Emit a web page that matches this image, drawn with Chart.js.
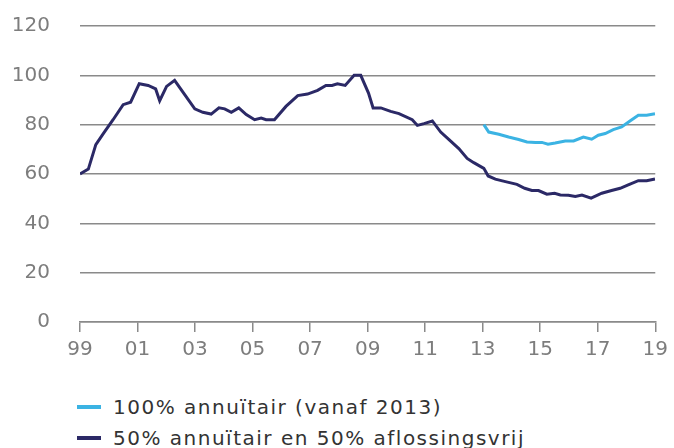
<!DOCTYPE html>
<html>
<head>
<meta charset="utf-8">
<script src="https://cdn.jsdelivr.net/npm/chart.js@4"></script>
<style>
  html, body { margin: 0; padding: 0; background: #fff; }
  #wrap { position: relative; width: 674px; height: 448px; }
  #chart { position: absolute; left: 0; top: 0; }
  #legend { position: absolute; left: 77px; top: 391px; font-family: "DejaVu Sans", sans-serif; font-size: 20px; letter-spacing: 1.5px; color: #333; }
  .item { display: flex; align-items: center; height: 31px; }
  .swatch { width: 24px; height: 4px; margin-right: 12px; }
</style>
</head>
<body>
<div id="wrap">
  <canvas id="chart" width="674" height="375"></canvas>
  <div id="legend"></div>
</div>
<script>
// series (decimal year, index value)
const labelLight = '100% annuïtair (vanaf 2013)';
const labelDark  = '50% annuïtair en 50% aflossingsvrij';

const yearsDark = [1999.00, 1999.29, 1999.55, 1999.81, 2000.15, 2000.50, 2000.76, 2001.06, 2001.37, 2001.63,
  2001.77, 2002.01, 2002.29, 2002.64, 2002.99, 2003.27, 2003.56, 2003.83, 2004.03, 2004.26,
  2004.52, 2004.78, 2005.07, 2005.30, 2005.47, 2005.76, 2006.16, 2006.57, 2006.91, 2007.26,
  2007.55, 2007.76, 2007.95, 2008.22, 2008.53, 2008.76, 2009.03, 2009.19, 2009.46, 2009.80,
  2010.09, 2010.55, 2010.73, 2010.96, 2011.25, 2011.54, 2011.82, 2012.17, 2012.46, 2012.69,
  2013.04, 2013.19, 2013.44, 2013.79, 2014.19, 2014.46, 2014.71, 2014.94, 2015.23, 2015.50,
  2015.70, 2015.98, 2016.22, 2016.45, 2016.77, 2017.14, 2017.48, 2017.78, 2018.06, 2018.41,
  2018.70, 2018.99];
const valuesDark = [60.0, 62.0, 71.9, 76.4, 82.0, 88.1, 89.1, 96.6, 95.9, 94.5,
  89.7, 95.5, 98.0, 92.2, 86.4, 85.0, 84.3, 86.8, 86.4, 85.0,
  86.8, 84.1, 82.0, 82.7, 82.0, 82.0, 87.4, 91.8, 92.4, 93.9,
  95.9, 95.9, 96.6, 95.9, 100.0, 100.0, 92.8, 86.8, 86.8, 85.4,
  84.5, 82.0, 79.7, 80.4, 81.5, 77.0, 74.0, 70.3, 66.3, 64.6,
  62.3, 59.2, 57.9, 56.9, 55.8, 54.2, 53.3, 53.3, 51.8, 52.2,
  51.5, 51.4, 50.9, 51.5, 50.2, 52.2, 53.3, 54.2, 55.6, 57.3,
  57.3, 58.0];

const yearsLight = [2013.04, 2013.21, 2013.56, 2013.90, 2014.25, 2014.54, 2014.83, 2015.06, 2015.27, 2015.52,
  2015.87, 2016.16, 2016.50, 2016.79, 2017.02, 2017.26, 2017.54, 2017.83, 2018.12, 2018.41,
  2018.70, 2018.99];
const valuesLight = [80.0, 77.0, 76.1, 75.0, 74.0, 73.0, 72.8, 72.8, 72.1, 72.6,
  73.4, 73.4, 75.0, 74.1, 75.7, 76.4, 78.0, 79.1, 81.5, 83.8,
  83.8, 84.4];

const xTicks = [1999, 2001, 2003, 2005, 2007, 2009, 2011, 2013, 2015, 2017, 2019];
const yTicks = [0, 20, 40, 60, 80, 100, 120];

const colorLight = '#3bb3e3';
const colorDark  = '#2b2966';
const gridColor  = '#8a8a8a';
const tickColor  = '#7d7d7d';

const pts = (xs, ys) => xs.map((x, i) => ({ x, y: ys[i] }));

// wider tick lettering, like the source (set once, before anything is measured)
const spacing = {
  id: 'spacing',
  beforeInit: c => { c.ctx.letterSpacing = '1.8px'; }
};

const chart = new Chart(document.getElementById('chart'), {
  type: 'line',
  data: {
    datasets: [
      { label: labelLight, data: pts(yearsLight, valuesLight), borderColor: colorLight, borderWidth: 3, pointRadius: 0, tension: 0 },
      { label: labelDark,  data: pts(yearsDark, valuesDark),   borderColor: colorDark,  borderWidth: 3, pointRadius: 0, tension: 0 }
    ]
  },
  plugins: [spacing],
  options: {
    responsive: false,
    animation: false,
    layout: { padding: { top: 26, right: 17, left: 0, bottom: 0 } },
    plugins: { legend: { display: false }, tooltip: { enabled: false } },
    scales: {
      x: {
        type: 'linear',
        min: 1999, max: 2019,
        afterBuildTicks: s => { s.ticks = xTicks.map(v => ({ value: v })); },
        afterFit: s => { s.height = 53; },
        ticks: {
          color: tickColor, padding: 6,
          font: { family: 'DejaVu Sans', size: 20 },
          callback: v => String(v % 100).padStart(2, '0')
        },
        grid: { drawOnChartArea: false, drawTicks: true, tickLength: 10, color: gridColor, lineWidth: 1.5 },
        border: { display: true, color: gridColor, width: 1.5 }
      },
      y: {
        min: 0, max: 120,
        afterBuildTicks: s => { s.ticks = yTicks.map(v => ({ value: v })); },
        afterFit: s => { s.width = 80; s.paddingTop = 0; s.paddingBottom = 0; },
        ticks: { color: tickColor, padding: 30, font: { family: 'DejaVu Sans', size: 20 } },
        grid: { drawTicks: false, color: gridColor, lineWidth: 1.5 },
        border: { display: false }
      }
    }
  }
});

// legend as html text
const legend = document.getElementById('legend');
chart.data.datasets.forEach(ds => {
  const row = document.createElement('div');
  row.className = 'item';
  const sw = document.createElement('span');
  sw.className = 'swatch';
  sw.style.background = ds.borderColor;
  const txt = document.createElement('span');
  txt.textContent = ds.label;
  row.appendChild(sw);
  row.appendChild(txt);
  legend.appendChild(row);
});
</script>
</body>
</html>
